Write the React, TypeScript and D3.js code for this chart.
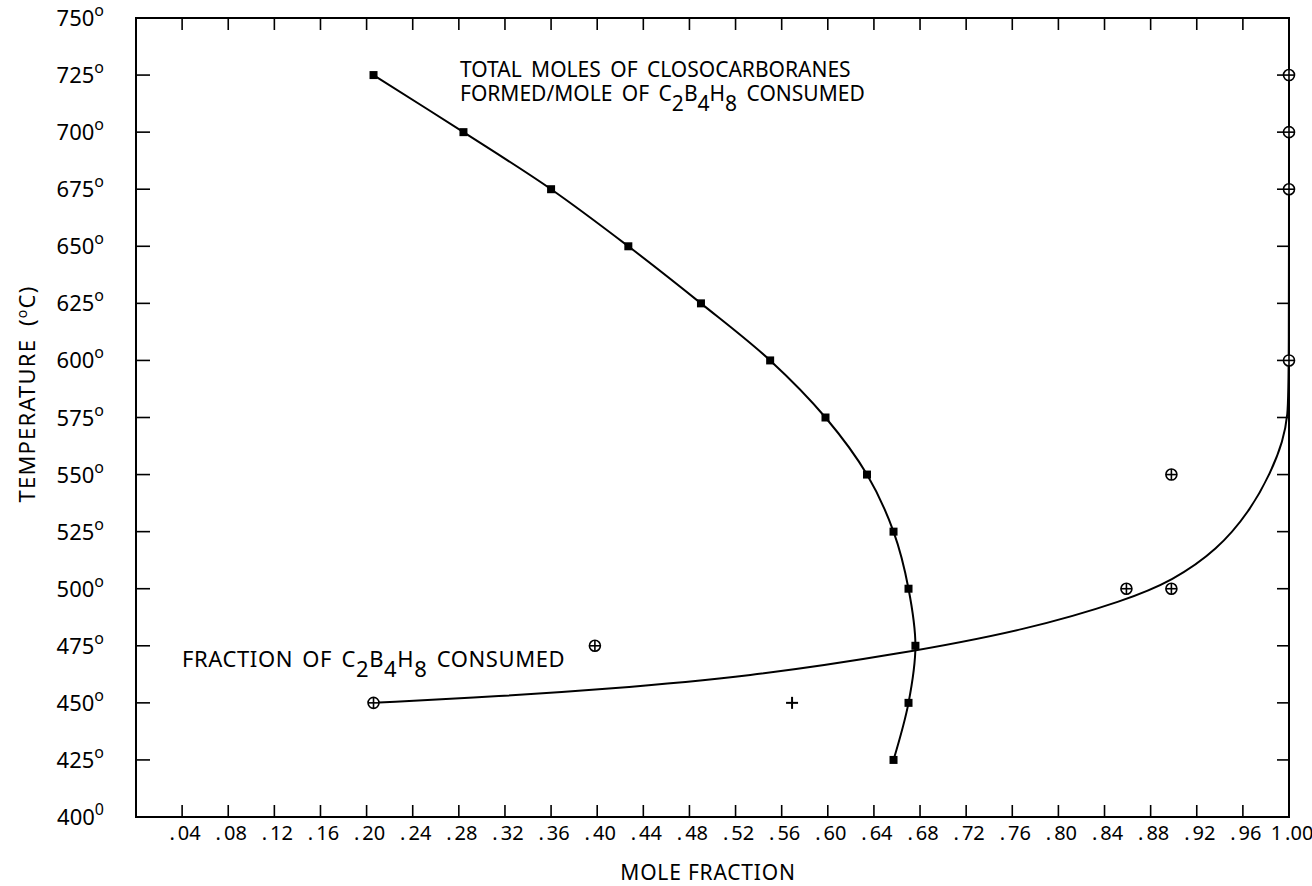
import React from 'react';
import * as d3 from 'd3';

// squares: total moles of closocarboranes formed / mole of C2B4H8 consumed
const moleTemps = [725, 700, 675, 650, 625, 600, 575, 550, 525, 500, 475, 450, 425];
const moleFractions = [0.206, 0.284, 0.36, 0.427, 0.49, 0.55, 0.598, 0.634, 0.657, 0.67, 0.676, 0.67, 0.657];

// circled crosses: fraction of C2B4H8 consumed
const consumedTemps = [450, 475, 500, 500, 550, 600, 675, 700, 725];
const consumedFractions = [0.206, 0.398, 0.859, 0.898, 0.898, 1.0, 1.0, 1.0, 1.0];

// lone cross
const plusTemps = [450];
const plusFractions = [0.569];

// hand drawn fit for the fraction consumed
const fitFractions = [0.206, 0.32, 0.402, 0.533, 0.663, 0.773, 0.859, 0.899, 0.938, 0.966, 0.984, 0.995, 0.999, 1.0, 1.0];
const fitTemps = [450, 453, 455.8, 461.5, 471.5, 482, 495, 503.5, 517, 534, 550.5, 565, 576, 590, 727];

const xTicks = d3.range(1, 26).map(i => i * 0.04);
const yTicks = d3.range(400, 751, 25);

const font = "'Noto Sans', sans-serif";

// C2B4H8 with the digits dropped below the line
function Formula({ drop }: { drop: number }) {
  return (
    <>
      C<tspan dy={drop}>2</tspan><tspan dy={-drop}>B</tspan><tspan dy={drop}>4</tspan>
      <tspan dy={-drop}>H</tspan><tspan dy={drop}>8</tspan>
      <tspan dy={-drop}> CONSUMED</tspan>
    </>
  );
}

export default function App() {
  const W = 1312, H = 886;
  const x = d3.scaleLinear().domain([0, 1]).range([136, 1289]);
  const y = d3.scaleLinear().domain([400, 750]).range([817, 18]);

  const line = d3.line<[number, number]>()
    .x(d => x(d[0]))
    .y(d => y(d[1]))
    .curve(d3.curveCatmullRom.alpha(0.5));

  const fitLine = d3.line<[number, number]>()
    .x(d => x(d[0]))
    .y(d => y(d[1]))
    .curve(d3.curveBasis);

  const molePts = moleFractions.map((f, i) => [f, moleTemps[i]] as [number, number]);
  const fitPts = fitFractions.map((f, i) => [f, fitTemps[i]] as [number, number]);

  const fmtX = (v: number) => (v >= 0.999 ? '1.00' : d3.format('.2f')(v).slice(1));

  return (
    <svg width={W} height={H} style={{ position: 'fixed', left: 0, top: 0, background: '#fff' }}
      fontFamily={font}>
      <rect x={0} y={0} width={W} height={H} fill="#fff" />
      {/* frame */}
      <rect x={x(0)} y={y(750)} width={x(1) - x(0)} height={y(400) - y(750)}
        fill="none" stroke="#000" strokeWidth={2} />

      {/* x ticks, bottom and top */}
      {xTicks.slice(0, -1).map(t => (
        <g key={'xt' + t}>
          <line x1={x(t)} x2={x(t)} y1={y(400)} y2={y(400) - 12} stroke="#000" strokeWidth={1.6} />
          <line x1={x(t)} x2={x(t)} y1={y(750)} y2={y(750) + 12} stroke="#000" strokeWidth={1.6} />
        </g>
      ))}
      {xTicks.map(t => (
        <text key={'xl' + t} x={x(t) + 3} y={840} fontSize={20} textAnchor="middle" fill="#000">
          {fmtX(t)[0]}<tspan dx={3}>{fmtX(t).slice(1)}</tspan>
        </text>
      ))}

      {/* y ticks, left and right */}
      {yTicks.slice(1, -1).map(t => (
        <g key={'yt' + t}>
          <line x1={x(0)} x2={x(0) + 14} y1={y(t)} y2={y(t)} stroke="#000" strokeWidth={1.6} />
          <line x1={x(1)} x2={x(1) - 12} y1={y(t)} y2={y(t)} stroke="#000" strokeWidth={1.6} />
        </g>
      ))}
      {yTicks.map(t => (
        <text key={'yl' + t} x={104} y={y(t) + 8} fontSize={22} textAnchor="end" fill="#000">
          {t}<tspan dy={-10} fontSize={16}>{t === 400 ? '0' : 'o'}</tspan>
        </text>
      ))}

      {/* axis titles */}
      <text x={708} y={880} fontSize={21} letterSpacing={0.8} textAnchor="middle" fill="#000">MOLE FRACTION</text>
      <text transform="translate(35,394) rotate(-90)" fontSize={22} letterSpacing={1.2}
        wordSpacing={6} textAnchor="middle" fill="#000">
        TEMPERATURE (<tspan dy={-8} fontSize={14}>o</tspan><tspan dy={8}>C)</tspan>
      </text>

      {/* curves */}
      <path d={line(molePts) ?? ''} fill="none" stroke="#000" strokeWidth={2} />
      <path d={fitLine(fitPts) ?? ''} fill="none" stroke="#000" strokeWidth={2} />

      {/* markers */}
      {molePts.map((p, i) => (
        <rect key={'sq' + i} x={x(p[0]) - 4} y={y(p[1]) - 4} width={8} height={8} fill="#000" />
      ))}
      {consumedFractions.map((f, i) => {
        const cx = x(f), cy = y(consumedTemps[i]);
        return (
          <g key={'oc' + i} stroke="#000" strokeWidth={1.6}>
            <circle cx={cx} cy={cy} r={5.5} fill="#fff" />
            <line x1={cx - 5.5} x2={cx + 5.5} y1={cy} y2={cy} />
            <line x1={cx} x2={cx} y1={cy - 5.5} y2={cy + 5.5} />
          </g>
        );
      })}
      {plusFractions.map((f, i) => {
        const cx = x(f), cy = y(plusTemps[i]);
        return (
          <g key={'pl' + i} stroke="#000" strokeWidth={2}>
            <line x1={cx - 6} x2={cx + 6} y1={cy} y2={cy} />
            <line x1={cx} x2={cx} y1={cy - 6} y2={cy + 6} />
          </g>
        );
      })}

      {/* annotations */}
      <text x={460} y={77} fontSize={21} wordSpacing={4} fill="#000">TOTAL MOLES OF CLOSOCARBORANES</text>
      <text x={460} y={101} fontSize={21} wordSpacing={4} fill="#000">
        FORMED/MOLE OF <Formula drop={10} />
      </text>
      <text x={182} y={667} fontSize={22} wordSpacing={3} letterSpacing={0.6} fill="#000">
        FRACTION OF <Formula drop={10} />
      </text>
    </svg>
  );
}
